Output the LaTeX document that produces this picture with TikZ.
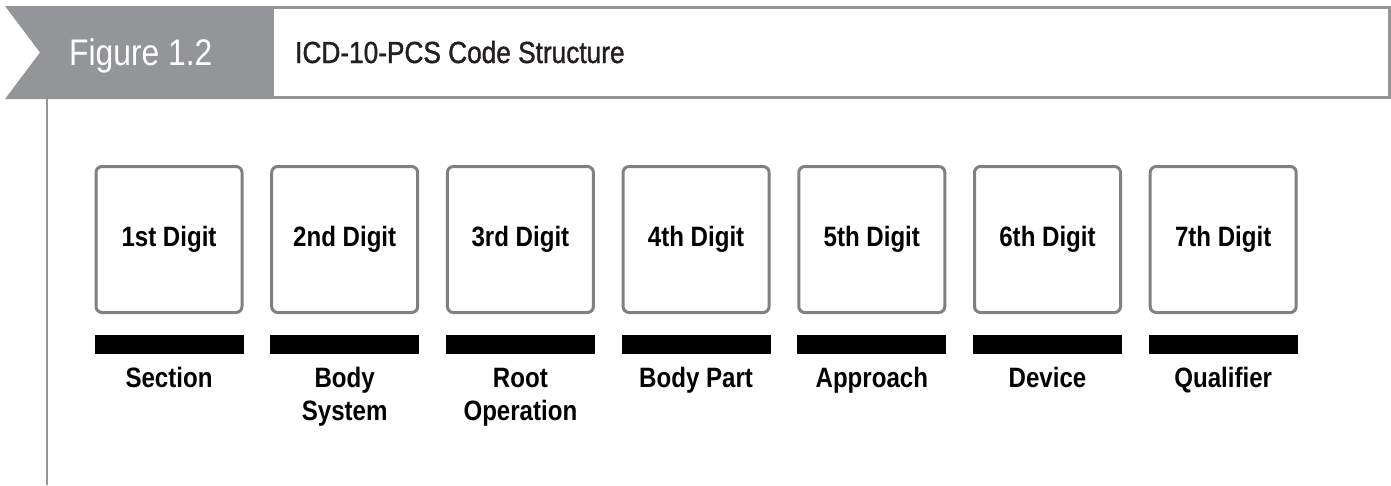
\documentclass[tikz,border=0pt]{standalone}
\usepackage{fontspec}
\newfontfamily\condfont[FakeStretch=0.86]{Liberation Sans}
\newfontfamily\titlefont[FakeStretch=0.86, FakeBold=1.2]{Liberation Sans}
\definecolor{headgray}{HTML}{939598}
\definecolor{boxgray}{HTML}{808080}
\definecolor{inkblack}{HTML}{231F20}
\begin{document}
\begin{tikzpicture}[x=1pt,y=-1pt,
  digitbox/.style={draw=boxgray, line width=3pt, rounded corners=6pt, fill=white,
    minimum width=146pt, minimum height=146pt, inner sep=0pt,
    font=\condfont\bfseries\fontsize{28}{32}\selectfont, text=black},
  digitbar/.style={fill=black, minimum width=149pt, minimum height=19pt, inner sep=0pt},
  digitlabel/.style={anchor=north, align=center, inner sep=0pt,
    font=\condfont\bfseries\fontsize{28}{33}\selectfont, text=black}]
\useasboundingbox (0,0) rectangle (1391,485);

% header: outlined title panel and grey tab with notched tail
\draw[headgray, line width=3pt] (272,7.5) rectangle (1389.5,97.5);
\fill[headgray] (5,6) -- (272,6) -- (272,99) -- (5,99) -- (40,52.5) -- cycle;
\node[anchor=base west, inner sep=0pt, text=white,
  font=\condfont\fontsize{37}{40}\selectfont] (fig) at (69,65) {Figure 1.2};
\node[anchor=base west, inner sep=0pt, text=inkblack,
  font=\titlefont\fontsize{30.5}{34}\selectfont] (title) at (295,63) {ICD-10-PCS Code Structure};

% vertical rule below the tab
\coordinate (ruletop) at (47,99);
\coordinate (rulebot) at (47,485);
\draw[headgray, line width=2.5pt] (ruletop) -- (rulebot);

% the seven character positions
\foreach \i/\ord/\lab in {1/1st/Section, 2/2nd/Body\\System, 3/3rd/Root\\Operation,
    4/4th/Body Part, 5/5th/Approach, 6/6th/Device, 7/7th/Qualifier} {
  \pgfmathsetmacro{\cx}{169+175.7*(\i-1)}
  \node[digitbox] (d\i) at (\cx,239.5) {\ord{} Digit};
  \node[digitbar] (b\i) at (\cx,344.5) {};
  \node[digitlabel] (l\i) at (\cx,367) {\vphantom{d}\lab};
}
\end{tikzpicture}
\end{document}
